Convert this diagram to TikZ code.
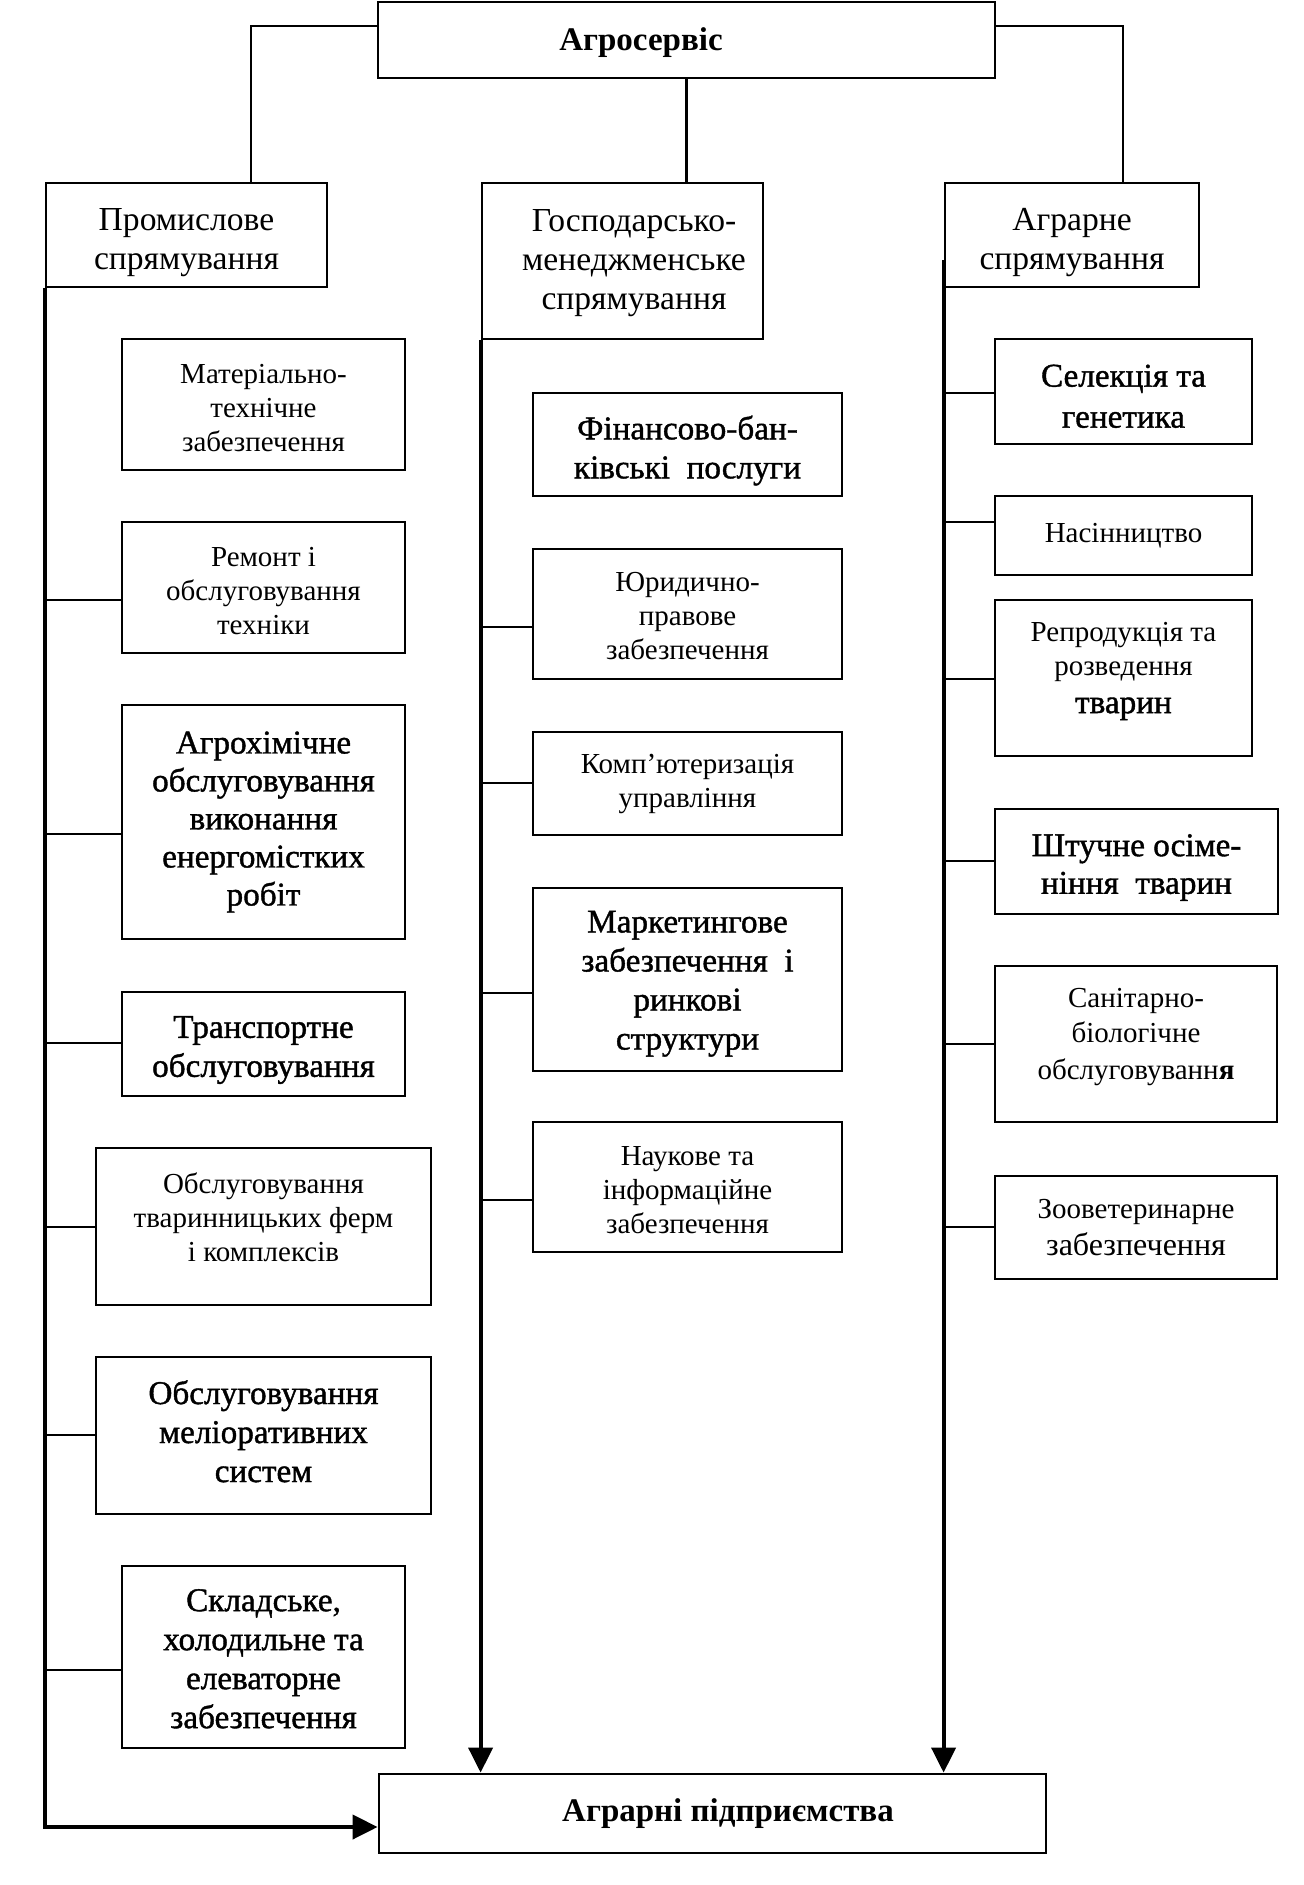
\documentclass[tikz,border=0pt]{standalone}
\usepackage{fontspec}
\setmainfont{Liberation Serif}
\newfontfamily\medf[FakeBold=1.2]{Liberation Serif}
\usetikzlibrary{arrows.meta}
\tikzset{
  x=0.5pt, y=-0.5pt,
  box/.style={draw, line width=1.4pt, inner sep=0pt},
  txt/.style={inner sep=0pt, align=center},
  head/.style={txt, font=\fontsize{16.8}{19.5}\selectfont},
  small/.style={txt, font=\fontsize{14.5}{17}\selectfont},
  big/.style={txt, font=\medf\fontsize{16.6}{19.5}\selectfont},
  boldt/.style={txt, font=\bfseries\fontsize{16.5}{19}\selectfont},
  trunk/.style={line width=2pt},
  branch/.style={line width=1.4pt},
  thinb/.style={line width=1.1pt},
  arr/.style={-{Triangle[length=12.5pt,width=12pt]}},
}
\begin{document}
\begin{tikzpicture}
\useasboundingbox (0,0) rectangle (1304,1885);
% top
\node[box, minimum width=308.5pt, minimum height=38pt] (top) at (686.5,40) {};
\node[boldt, yshift=-1.8pt] (topt) at (641,39) {Агросервіс};
% second row
\node[box, minimum width=140.5pt, minimum height=52pt] (prom) at (186.5,235) {};
\node[head, yshift=-3.9pt] (promt) at (prom) {Промислове\\спрямування};
\node[box, minimum width=140.5pt, minimum height=78pt] (gosp) at (622.5,261) {};
\node[head] (gospt) at (634,263) {Господарсько-\\менеджменське\\спрямування};
\node[box, minimum width=127pt, minimum height=52pt] (agr) at (1072,235) {};
\node[head, yshift=-3.9pt] (agrt) at (agr) {Аграрне\\спрямування};
% left column
\node[box, minimum width=141.5pt, minimum height=65.5pt] (mat) at (263.5,404.5) {};
\node[small, yshift=-1.8pt] (matt) at (mat) {Матеріально-\\технічне\\забезпечення};
\node[box, minimum width=141.5pt, minimum height=65.5pt] (rem) at (263.5,587.5) {};
\node[small, yshift=-1.8pt] (remt) at (rem) {Ремонт і\\обслуговування\\техніки};
\node[box, minimum width=141.5pt, minimum height=117pt] (agro) at (263.5,822) {};
\node[big, font=\medf\fontsize{16.6}{19}\selectfont] (agrot) at (agro) {Агрохімічне\\обслуговування\\виконання\\енергомістких\\робіт};
\node[box, minimum width=141.5pt, minimum height=52pt] (trans) at (263.5,1044) {};
\node[big, yshift=-3pt] (transt) at (trans) {Транспортне\\обслуговування};
\node[box, minimum width=167.5pt, minimum height=78.5pt] (ferm) at (263.5,1226.5) {};
\node[small] (fermt) at (263.5,1217) {Обслуговування\\тваринницьких ферм\\і комплексів};
\node[box, minimum width=167.5pt, minimum height=78.5pt] (melio) at (263.5,1435.5) {};
\node[big, yshift=2.1pt] (meliot) at (melio) {Обслуговування\\меліоративних\\систем};
\node[box, minimum width=141.5pt, minimum height=91pt] (sklad) at (263.5,1657) {};
\node[big, yshift=-0.9pt] (skladt) at (sklad) {Складське,\\холодильне та\\елеваторне\\забезпечення};
% middle column
\node[box, minimum width=154.5pt, minimum height=51.5pt] (fin) at (687.5,444.5) {};
\node[big, yshift=-3pt] (fint) at (fin) {Фінансово-бан-\\ківські\ \ послуги};
\node[box, minimum width=154.5pt, minimum height=65pt] (jur) at (687.5,614) {};
\node[small, yshift=-1.2pt] (jurt) at (jur) {Юридично-\\правове\\забезпечення};
\node[box, minimum width=154.5pt, minimum height=51.5pt] (comp) at (687.5,783.5) {};
\node[small] (compt) at (comp) {Комп’ютеризація\\управління};
\node[box, minimum width=154.5pt, minimum height=91.5pt] (mark) at (687.5,979.5) {};
\node[big, yshift=-2.1pt] (markt) at (mark) {Маркетингове\\забезпечення\ \ і\\ринкові\\структури};
\node[box, minimum width=154.5pt, minimum height=65pt] (nauk) at (687.5,1187) {};
\node[small, yshift=-1.8pt] (naukt) at (nauk) {Наукове та\\інформаційне\\забезпечення};
% right column
\node[box, minimum width=128.5pt, minimum height=52.5pt] (sel) at (1123.5,391.5) {};
\node[big, font=\medf\fontsize{16.6}{20.5}\selectfont, yshift=-2.4pt] (selt) at (sel) {Селекція та\\генетика};
\node[box, minimum width=128.5pt, minimum height=39.5pt] (nas) at (1123.5,535.5) {};
\node[small] (nast) at (nas) {Насінництво};
\node[box, minimum width=128.5pt, minimum height=78pt] (rep) at (1123.5,678) {};
\node[small] (rept) at (1123.5,671) {Репродукція та\\розведення\\[2pt]{\medf\fontsize{16.6}{19}\selectfont тварин}};
\node[box, minimum width=141.5pt, minimum height=52.5pt] (sht) at (1136.5,861.5) {};
\node[big, font=\medf\fontsize{16.6}{18.8}\selectfont, yshift=-3pt] (shtt) at (sht) {Штучне осіме-\\ніння\ \ тварин};
\node[box, minimum width=141pt, minimum height=78pt] (san) at (1136,1044) {};
\node[small, font=\fontsize{14.5}{17.6}\selectfont] (sant) at (1136,1037) {Санітарно-\\біологічне\\[1pt]обслуговуванн\textbf{я}};
\node[box, minimum width=141pt, minimum height=51.5pt] (zoo) at (1136,1227.5) {};
\node[small] (zoot) at (zoo) {Зооветеринарне\\[1.2pt]{\fontsize{16}{17}\selectfont забезпечення}};
% bottom
\node[box, minimum width=333.5pt, minimum height=39.5pt] (bot) at (712.5,1813.5) {};
\node[boldt] (bott) at (728,1814) {Аграрні підприємства};
% top connectors
\draw[branch] (top.west |- 0,26) -| (251,0 |- prom.north);
\draw[branch] (top.east |- 0,26) -| (1123,0 |- agr.north);
\draw[thinb] (top.south) -- (top.south |- gosp.north);
% trunks
\draw[trunk, arr] (prom.south west) |- (bot.west |- 0,1827);
\draw[trunk, arr] (gosp.south west) -- (gosp.south west |- bot.north);
\draw[trunk, arr] (agr.west |- 0,260) -- (agr.west |- bot.north);
% left branches
\draw[branch] (prom.south west |- 0,600) -- (rem.west |- 0,600);
\draw[branch] (prom.south west |- 0,834) -- (agro.west |- 0,834);
\draw[branch] (prom.south west |- 0,1043) -- (trans.west |- 0,1043);
\draw[thinb] (prom.south west |- 0,1227) -- (ferm.west |- 0,1227);
\draw[branch] (prom.south west |- 0,1435) -- (melio.west |- 0,1435);
\draw[branch] (prom.south west |- 0,1670) -- (sklad.west |- 0,1670);
% middle branches
\draw[branch] (gosp.south west |- 0,627) -- (jur.west |- 0,627);
\draw[branch] (gosp.south west |- 0,783) -- (comp.west |- 0,783);
\draw[branch] (gosp.south west |- 0,993) -- (mark.west |- 0,993);
\draw[thinb] (gosp.south west |- 0,1200) -- (nauk.west |- 0,1200);
% right branches
\draw[branch] (agr.west |- 0,393) -- (sel.west |- 0,393);
\draw[branch] (agr.west |- 0,522) -- (nas.west |- 0,522);
\draw[thinb] (agr.west |- 0,679) -- (rep.west |- 0,679);
\draw[branch] (agr.west |- 0,861) -- (sht.west |- 0,861);
\draw[branch] (agr.west |- 0,1044) -- (san.west |- 0,1044);
\draw[thinb] (agr.west |- 0,1227) -- (zoo.west |- 0,1227);
\end{tikzpicture}
\end{document}
